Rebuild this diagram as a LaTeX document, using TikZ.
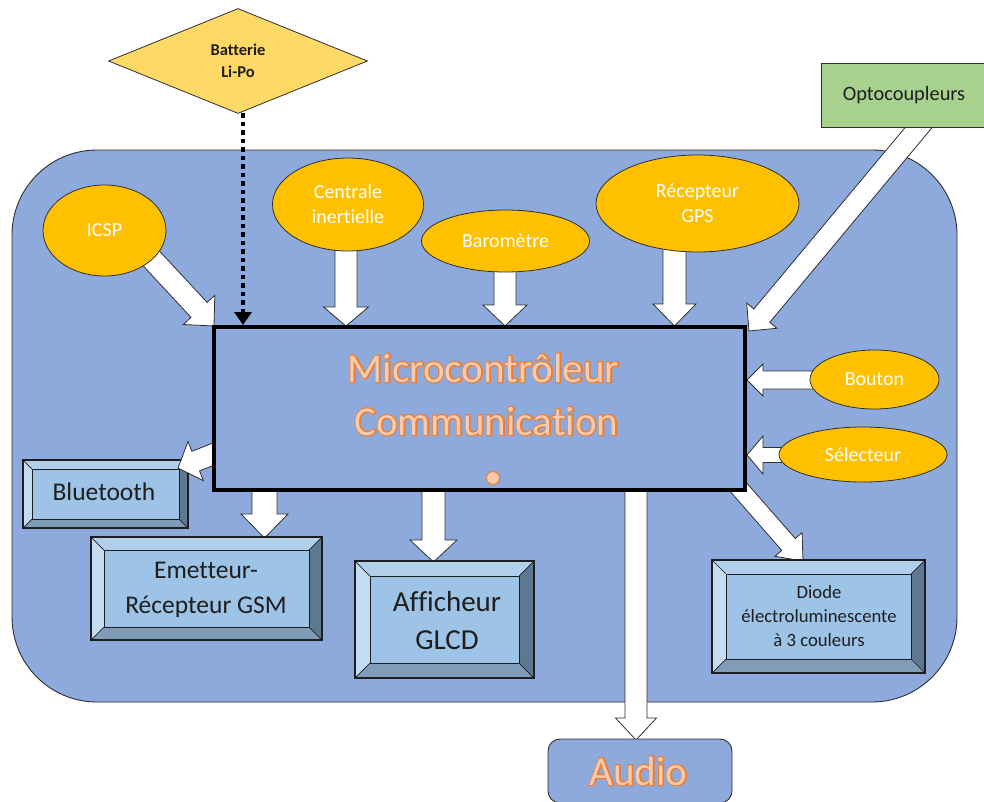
\documentclass[tikz,border=0pt]{standalone}
\usepackage{fontspec}
\setmainfont{Carlito}[Ligatures=NoCommon]
\usetikzlibrary{calc,shapes.geometric,arrows.meta}
\pgfdeclarelayer{bg}
\pgfdeclarelayer{arr}
\pgfsetlayers{bg,arr,main}
\definecolor{bigblue}{HTML}{8EA9DB}
\definecolor{ellfill}{HTML}{FFC000}
\definecolor{diafill}{HTML}{FFD966}
\definecolor{optofill}{HTML}{A9D18E}
\definecolor{bvIn}{HTML}{9DC3E6}
\definecolor{bvTop}{HTML}{B1CFEB}
\definecolor{bvLeft}{HTML}{C4DCF2}
\definecolor{bvRight}{HTML}{5F7891}
\definecolor{bvBot}{HTML}{7F9DB9}
\definecolor{orfill}{HTML}{F8CBAD}
\definecolor{orline}{HTML}{ED7D31}
\definecolor{edgec}{HTML}{2F2F2F}
\definecolor{txtdark}{HTML}{1E1E1E}

% outlined text: wide orange stroke underneath, light fill on top
\newcommand\outl[1]{\makebox[0pt][l]{\special{pdf:literal direct 0.929 0.490 0.192 RG 1 Tr 2.4 w}#1\special{pdf:literal direct 0 Tr 1 w}}\textcolor{orfill}{#1}}

\newcommand\bevelbox[6]{%
 \fill[bvTop] (#2,#3) -- (#4,#3) -- ({#4-#6},{#3+#6}) -- ({#2+#6},{#3+#6}) -- cycle;
 \fill[bvBot] (#2,#5) -- (#4,#5) -- ({#4-#6},{#5-#6}) -- ({#2+#6},{#5-#6}) -- cycle;
 \fill[bvLeft] (#2,#3) -- ({#2+#6},{#3+#6}) -- ({#2+#6},{#5-#6}) -- (#2,#5) -- cycle;
 \fill[bvRight] (#4,#3) -- ({#4-#6},{#3+#6}) -- ({#4-#6},{#5-#6}) -- (#4,#5) -- cycle;
 \fill[bvIn] ({#2+#6},{#3+#6}) rectangle ({#4-#6},{#5-#6});
 \draw[bvline] ({#2+#6},{#3+#6}) rectangle ({#4-#6},{#5-#6});
 \draw[bvline] (#2,#3) -- ({#2+#6},{#3+#6}) (#4,#3) -- ({#4-#6},{#3+#6})
   (#2,#5) -- ({#2+#6},{#5-#6}) (#4,#5) -- ({#4-#6},{#5-#6});
 \node[draw=txtdark, line width=1.1, minimum width={#4-#2}, minimum height={#5-#3}, inner sep=0]
   (#1) at ({(#2+#4)/2},{(#3+#5)/2}) {};
}
\newcommand\fatarrow[5]{%
 \coordinate (fah) at ($(#2)!#5!(#1)$);
 \draw[fatarr] ($(#1)!#3!90:(#2)$) -- ($(fah)!#3!90:(#2)$) -- ($(fah)!#4!90:(#2)$) -- (#2)
   -- ($(fah)!#4!-90:(#2)$) -- ($(fah)!#3!-90:(#2)$) -- ($(#1)!#3!-90:(#2)$) -- cycle;
}

\begin{document}
\begin{tikzpicture}[x=1pt,y=-1pt,
  ell/.style={ellipse, draw=edgec, line width=0.8, fill=ellfill, text=white, inner sep=0,
    align=center, font=\fontsize{20}{25}\selectfont},
  bvline/.style={draw=txtdark, line width=0.7},
  fatarr/.style={draw=edgec, fill=white, line width=0.8, line join=miter},
  bvtext/.style={text=txtdark, align=center},
  ortext/.style={font=\fontsize{41}{48}\selectfont, anchor=base}]
\useasboundingbox (0,0) rectangle (984,801);

\begin{pgfonlayer}{bg}
\fill[white] (0,0) rectangle (984,801);
\node[draw=edgec, line width=0.9, fill=bigblue, rounded corners=85, minimum width=945,
  minimum height=552, inner sep=0] (board) at (484.5,426) {};
\bevelbox{bt}{23}{460}{188}{528}{9}
\end{pgfonlayer}

% top elements
\node[diamond, draw=edgec, line width=0.8, fill=diafill, minimum width=259, minimum height=105,
  inner sep=0, align=center, font=\fontsize{16.5}{21.5}\bfseries, text=txtdark] (bat) at (238,61)
  {Batterie\\Li-Po};
\node[draw=edgec, line width=0.8, fill=optofill, minimum width=166, minimum height=64, inner sep=0,
  font=\fontsize{20.4}{24}\selectfont, text=txtdark] (opto) at (904,95) {Optocoupleurs};

% sensors
\node[ell, minimum width=123, minimum height=91] (icsp) at (104.5,230.5) {ICSP};
\node[ell, minimum width=151, minimum height=93] (cent) at (348,204.5) {Centrale\\inertielle};
\node[ell, minimum width=168, minimum height=62] (baro) at (505.5,241) {Baromètre};
\node[ell, minimum width=203, minimum height=97] (gps) at (697.5,203.5) {Récepteur\\GPS};
\node[ell, minimum width=129, minimum height=59] (bouton) at (874.5,379.5) {Bouton};
\node[ell, minimum width=168, minimum height=55] (selec) at (863,454.5) {Sélecteur};

% microcontroller
\node[draw=black, line width=4, fill=bigblue, minimum width=531, minimum height=163, inner sep=0]
  (mcu) at (479.5,408.5) {};
\node[ortext] (mcuA) at (483.5,382) {\outl{Microcontrôleur}};
\node[ortext] (mcuB) at (486.5,435) {\outl{Communication}};
\node[circle, fill=orfill, draw=orline, line width=1, minimum size=13, inner sep=0] (dot) at (493,478) {};

% outputs
\bevelbox{gsm}{91}{537}{322}{640}{13}
\node[bvtext, font=\fontsize{25.5}{35}\selectfont] (gsmT) at (206,590) {Emetteur-\\Récepteur GSM};
\node[bvtext, font=\fontsize{25.5}{30}\selectfont] (btT) at (104,492) {Bluetooth};
\bevelbox{glcd}{355}{561}{534}{678}{15}
\node[bvtext, font=\fontsize{29}{38}\selectfont] (glcdT) at (447,621) {Afficheur\\GLCD};
\bevelbox{led}{712}{560}{925}{673}{14}
\node[bvtext, font=\fontsize{18.7}{24}\selectfont] (ledT) at (819,616) {Diode\\électroluminescente\\à 3 couleurs};

\node[draw=edgec, line width=0.9, fill=bigblue, rounded corners=12, minimum width=184,
  minimum height=64, inner sep=0] (audio) at (640,771) {};
\node[ortext] (audioT) at (638.5,785) {\outl{Audio}};

% connectors
\begin{pgfonlayer}{arr}
\coordinate (icspS) at (124,229);   \coordinate (icspE) at (214,326);
\coordinate (centS) at (346,230);   \coordinate (centE) at (346,326);
\coordinate (baroS) at (505,245);   \coordinate (baroE) at (505,326);
\coordinate (gpsS) at (674.5,230);  \coordinate (gpsE) at (674.5,326);
\coordinate (optoS) at (929,115);   \coordinate (optoE) at (749,331);
\coordinate (boutS) at (850,380);   \coordinate (boutE) at (747,380);
\coordinate (selS) at (830,455);    \coordinate (selE) at (747,455);
\coordinate (btS) at (229,448);     \coordinate (btE) at (178,468);
\coordinate (gsmS) at (264.5,480);  \coordinate (gsmE) at (264.5,538);
\coordinate (glcdS) at (433.5,480); \coordinate (glcdE) at (433.5,562);
\coordinate (audS) at (636,480);    \coordinate (audE) at (636,740);
\coordinate (ledS) at (733,481);    \coordinate (ledE) at (803,561);
\fatarrow{icspS}{icspE}{11pt}{21.5pt}{22pt}
\fatarrow{centS}{centE}{11pt}{22.5pt}{19pt}
\fatarrow{baroS}{baroE}{11pt}{22pt}{21pt}
\fatarrow{gpsS}{gpsE}{11.5pt}{21.5pt}{22pt}
\fatarrow{optoS}{optoE}{10.4pt}{19.7pt}{20pt}
\fatarrow{boutS}{boutE}{9pt}{16pt}{16pt}
\fatarrow{selS}{selE}{7.5pt}{19pt}{16pt}
\fatarrow{btS}{btE}{10.5pt}{21pt}{19pt}
\fatarrow{gsmS}{gsmE}{12.5pt}{23.5pt}{24pt}
\fatarrow{glcdS}{glcdE}{11.5pt}{23.5pt}{22pt}
\fatarrow{audS}{audE}{11pt}{20.5pt}{22pt}
\fatarrow{ledS}{ledE}{9pt}{18pt}{22pt}
\end{pgfonlayer}
\coordinate (batS) at (243,113);
\coordinate (batE) at (243,325);
\draw[line width=4.5, dash pattern=on 4.5 off 4, -{Triangle[length=13pt,width=17pt]}] (batS) -- (batE);
\end{tikzpicture}
\end{document}
